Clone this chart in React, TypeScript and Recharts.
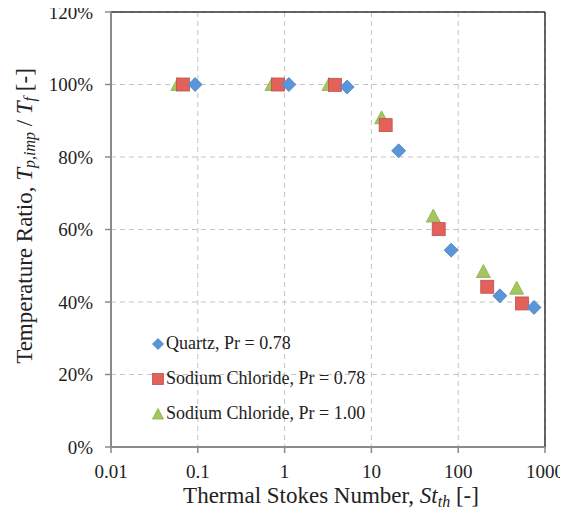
import React from "react";
import {
  ScatterChart,
  Scatter,
  XAxis,
  YAxis,
  CartesianGrid,
  ReferenceLine,
} from "recharts";

const xTicks = [0.01, 0.1, 1, 10, 100, 1000];
const yTicks = [0, 20, 40, 60, 80, 100, 120];

const quartzX = [0.093, 1.12, 5.25, 20.6, 83, 302, 747];
const quartzY = [100, 100, 99.3, 81.7, 54.3, 41.7, 38.5];

const naCl078X = [0.0675, 0.84, 3.8, 14.6, 59.6, 216, 543];
const naCl078Y = [100, 100, 99.9, 88.8, 60.1, 44.2, 39.6];

const naCl100X = [0.059, 0.716, 3.25, 13.1, 51.6, 195, 472];
const naCl100Y = [100, 100, 100, 90.8, 63.7, 48.4, 43.8];

const seriesNames = [
  "Quartz, Pr = 0.78",
  "Sodium Chloride, Pr = 0.78",
  "Sodium Chloride, Pr = 1.00",
];

const toPoints = (xs: number[], ys: number[]) => xs.map((x, i) => ({ x, y: ys[i] }));

const quartz = toPoints(quartzX, quartzY);
const naCl078 = toPoints(naCl078X, naCl078Y);
const naCl100 = toPoints(naCl100X, naCl100Y);

const BLUE = "#5b95d9";
const BLUE_S = "#4a80c4";
const RED = "#e2625b";
const RED_S = "#c0504d";
const GREEN = "#a5c560";
const GREEN_S = "#8cae48";

const SERIF = "'Liberation Serif', 'Times New Roman', serif";

const Diamond = (props: any) => {
  const { cx, cy } = props;
  if (cx == null || cy == null) return null;
  const r = 7;
  return (
    <path
      d={`M${cx},${cy - r}L${cx + r},${cy}L${cx},${cy + r}L${cx - r},${cy}Z`}
      fill={BLUE}
      stroke={BLUE_S}
      strokeWidth={0.8}
    />
  );
};

const Square = (props: any) => {
  const { cx, cy } = props;
  if (cx == null || cy == null) return null;
  const r = 6.5;
  return (
    <rect x={cx - r} y={cy - r} width={2 * r} height={2 * r} fill={RED} stroke={RED_S} strokeWidth={0.8} />
  );
};

const Triangle = (props: any) => {
  const { cx, cy } = props;
  if (cx == null || cy == null) return null;
  const r = 7;
  return (
    <path
      d={`M${cx},${cy - r}L${cx + r},${cy + r * 0.85}L${cx - r},${cy + r * 0.85}Z`}
      fill={GREEN}
      stroke={GREEN_S}
      strokeWidth={0.8}
    />
  );
};

const legendIcons = [
  (
    <svg width={12} height={12} key="d">
      <path d="M6,0.5L11.5,6L6,11.5L0.5,6Z" fill={BLUE} stroke={BLUE_S} strokeWidth={0.8} />
    </svg>
  ),
  (
    <svg width={12} height={12} key="s">
      <rect x={0.5} y={0.5} width={11} height={11} fill={RED} stroke={RED_S} strokeWidth={0.8} />
    </svg>
  ),
  (
    <svg width={12} height={12} key="t">
      <path d="M6,0.5L11.5,11L0.5,11Z" fill={GREEN} stroke={GREEN_S} strokeWidth={0.8} />
    </svg>
  ),
];

const LegendBox = () => (
  <div
    style={{
      position: "absolute",
      left: 152,
      top: 326,
      fontFamily: SERIF,
      fontSize: 18,
      color: "#222",
      whiteSpace: "nowrap",
    }}
  >
    {seriesNames.map((n, i) => (
      <div key={n} style={{ display: "flex", alignItems: "center", height: 35 }}>
        <span style={{ display: "inline-flex", width: 12, marginRight: 2 }}>{legendIcons[i]}</span>
        <span>{n}</span>
      </div>
    ))}
  </div>
);

const YTitle = () => {
  const x = 24;
  const y = 216;
  return (
    <text
      x={x}
      y={y}
      transform={`rotate(-90, ${x}, ${y})`}
      textAnchor="middle"
      dominantBaseline="central"
      fontFamily={SERIF}
      fontSize={23}
      fill="#222"
    >
      <tspan>Temperature Ratio, </tspan>
      <tspan fontStyle="italic">T</tspan>
      <tspan fontStyle="italic" fontSize={16} dy={5}>p,imp</tspan>
      <tspan dy={-5}> / </tspan>
      <tspan fontStyle="italic">T</tspan>
      <tspan fontStyle="italic" fontSize={16} dy={5}>f</tspan>
      <tspan dy={-5}> [-]</tspan>
    </text>
  );
};

const XTitle = () => {
  const x = 331;
  const y = 503;
  return (
    <text x={x} y={y} textAnchor="middle" fontFamily={SERIF} fontSize={23} fill="#222">
      <tspan>Thermal Stokes Number, </tspan>
      <tspan fontStyle="italic">St</tspan>
      <tspan fontStyle="italic" fontSize={16} dy={4}>th</tspan>
      <tspan dy={-4}> [-]</tspan>
    </text>
  );
};

const tickStyle = {
  fontFamily: SERIF,
  fontSize: 19,
  fill: "#222",
};

export default function App() {
  return (
    <div style={{ position: "relative", width: 568, height: 516, margin: -8 }}>
      <ScatterChart width={568} height={516} margin={{ top: 12, right: 23, left: 0, bottom: 0 }}>
        <CartesianGrid stroke="#c4c4c4" strokeDasharray="5 4" strokeWidth={1} />
        <XAxis
          type="number"
          dataKey="x"
          scale="log"
          domain={[0.01, 1000]}
          ticks={xTicks}
          allowDataOverflow
          tickFormatter={(v: number) => String(v)}
          tick={tickStyle}
          tickSize={6}
          tickMargin={12}
          height={69}
          axisLine={{ stroke: "#8a8a8a", strokeWidth: 2 }}
          tickLine={{ stroke: "#8a8a8a", strokeWidth: 1.5 }}
          label={<XTitle />}
          interval={0}
        />
        <YAxis
          type="number"
          dataKey="y"
          domain={[0, 120]}
          ticks={yTicks}
          tickFormatter={(v: number) => `${v}%`}
          tick={tickStyle}
          tickSize={6}
          tickMargin={12}
          width={111}
          axisLine={{ stroke: "#8a8a8a", strokeWidth: 2 }}
          tickLine={{ stroke: "#8a8a8a", strokeWidth: 1.5 }}
          label={<YTitle />}
          interval={0}
        />
        <ReferenceLine y={120} stroke="#333" strokeWidth={1.5} />
        <ReferenceLine x={1000} stroke="#333" strokeWidth={1.5} />
        <Scatter name={seriesNames[2]} data={naCl100} shape={<Triangle />} isAnimationActive={false} />
        <Scatter name={seriesNames[1]} data={naCl078} shape={<Square />} isAnimationActive={false} />
        <Scatter name={seriesNames[0]} data={quartz} shape={<Diamond />} isAnimationActive={false} />
      </ScatterChart>
      <LegendBox />
    </div>
  );
}
